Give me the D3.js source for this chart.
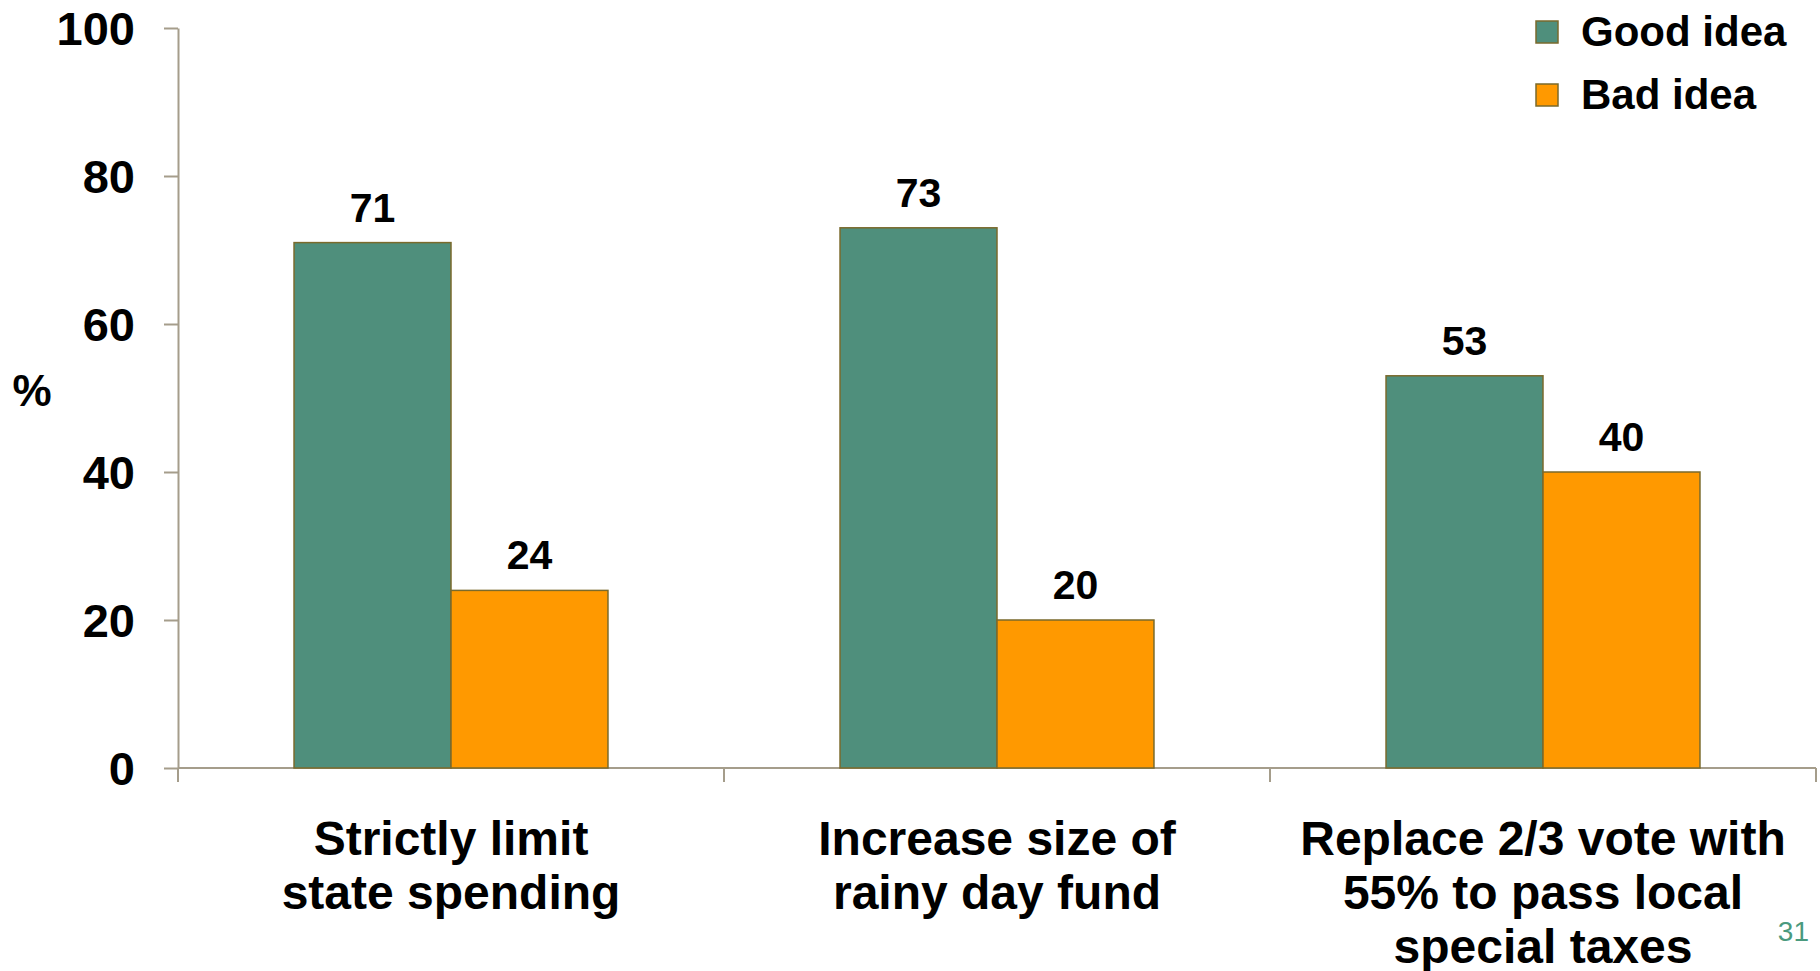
<!DOCTYPE html>
<head>
  <meta charset="utf-8">
  <title>Good idea / Bad idea</title>
  <style>
    body { margin: 0; background: #ffffff; }
    text { font-family: "Liberation Sans", Arial, sans-serif; }
    .axis path, .axis line { stroke: #a59d8b; stroke-width: 2px; }
    .axis text { font-size: 47px; font-weight: bold; fill: #000; }
  </style>
</head>
<body>
  <script src="https://cdnjs.cloudflare.com/ajax/libs/d3/7.8.5/d3.min.js"></script>
  <script>
    // data
    var categories = ["Strictly limit state spending", "Increase size of rainy day fund", "Replace 2/3 vote with 55% to pass local special taxes"];
    var categoryLines = [
      ["Strictly limit", "state spending"],
      ["Increase size of", "rainy day fund"],
      ["Replace 2/3 vote with", "55% to pass local", "special taxes"]
    ];
    var seriesNames = ["Good idea", "Bad idea"];
    var goodIdea = [71, 73, 53];
    var badIdea = [24, 20, 40];
    var yTicks = [0, 20, 40, 60, 80, 100];

    var colors = ["#4f8f7c", "#ff9900"];

    var width = 1820, height = 971;
    // plot box (window.top is reserved, so use a margin object)
    var plot = { left: 178, right: 1816, top: 28, bottom: 768 };

    var svg = d3.select("body").append("svg")
      .attr("width", width)
      .attr("height", height);

    var y = d3.scaleLinear().domain([0, 100]).range([plot.bottom, plot.top]);

    var x0 = d3.scaleBand()
      .domain(categories)
      .range([plot.left, plot.right])
      .paddingInner(0.425)
      .paddingOuter(0.2125);

    var x1 = d3.scaleBand()
      .domain(seriesNames)
      .range([0, x0.bandwidth()]);

    var color = d3.scaleOrdinal().domain(seriesNames).range(colors);

    // table built from the arrays
    var rows = categories.map(function (c, i) {
      return { category: c, values: [
        { name: seriesNames[0], value: goodIdea[i] },
        { name: seriesNames[1], value: badIdea[i] }
      ] };
    });

    // y axis
    svg.append("g")
      .attr("class", "axis")
      .attr("transform", "translate(" + plot.left + ",0)")
      .call(d3.axisLeft(y).tickValues(yTicks).tickSize(14).tickSizeOuter(0).tickPadding(29))
      .selectAll("text")
      .attr("dy", "0.36em");

    // x axis line with ticks on category boundaries
    var xAxis = svg.append("g").attr("class", "axis");
    xAxis.append("line")
      .attr("x1", plot.left).attr("x2", plot.right)
      .attr("y1", y(0)).attr("y2", y(0));
    var bounds = categories.map(function (c) { return x0(c) - x0.step() * x0.paddingOuter(); });
    bounds.push(plot.right);
    xAxis.selectAll(".xtick")
      .data(bounds)
      .enter().append("line")
      .attr("class", "xtick")
      .attr("x1", function (d) { return d; })
      .attr("x2", function (d) { return d; })
      .attr("y1", y(0))
      .attr("y2", y(0) + 14);

    // bars
    var groups = svg.selectAll(".group")
      .data(rows)
      .enter().append("g")
      .attr("class", "group")
      .attr("transform", function (d) { return "translate(" + x0(d.category) + ",0)"; });

    groups.selectAll("rect")
      .data(function (d) { return d.values; })
      .enter().append("rect")
      .attr("x", function (d) { return x1(d.name); })
      .attr("y", function (d) { return y(d.value); })
      .attr("width", x1.bandwidth())
      .attr("height", function (d) { return y(0) - y(d.value); })
      .attr("fill", function (d) { return color(d.name); })
      .attr("stroke", "#7a6a2c")
      .attr("stroke-width", 1.5);

    groups.selectAll(".val")
      .data(function (d) { return d.values; })
      .enter().append("text")
      .attr("class", "val")
      .attr("x", function (d) { return x1(d.name) + x1.bandwidth() / 2; })
      .attr("y", function (d) { return y(d.value) - 21; })
      .attr("text-anchor", "middle")
      .style("font-size", "41px")
      .style("font-weight", "bold")
      .text(function (d) { return d.value; });

    // category labels
    svg.selectAll(".cat")
      .data(categories)
      .enter().append("text")
      .attr("class", "cat")
      .attr("text-anchor", "middle")
      .style("font-size", "48px")
      .style("font-weight", "bold")
      .each(function (c, i) {
        var t = d3.select(this);
        categoryLines[i].forEach(function (line, j) {
          t.append("tspan")
            .attr("x", x0(c) + x0.bandwidth() / 2)
            .attr("y", y(0) + 87 + j * 54)
            .text(line);
        });
      });

    // y axis unit
    svg.append("text")
      .attr("x", 32)
      .attr("y", 406)
      .attr("text-anchor", "middle")
      .style("font-size", "44px")
      .style("font-weight", "bold")
      .text("%");

    // legend
    var legend = svg.selectAll(".legend")
      .data(seriesNames)
      .enter().append("g")
      .attr("class", "legend")
      .attr("transform", function (d, i) { return "translate(1536," + (21 + i * 63) + ")"; });

    legend.append("rect")
      .attr("width", 22)
      .attr("height", 22)
      .attr("fill", function (d) { return color(d); })
      .attr("stroke", "#7a6a2c")
      .attr("stroke-width", 1.5);

    legend.append("text")
      .attr("x", 45)
      .attr("y", 25)
      .style("font-size", "42px")
      .style("font-weight", "bold")
      .text(function (d) { return d; });

    // slide number
    svg.append("text")
      .attr("x", 1809)
      .attr("y", 941)
      .attr("text-anchor", "end")
      .style("font-size", "28px")
      .style("fill", "#4a9a7e")
      .text("31");
  </script>
</body>
